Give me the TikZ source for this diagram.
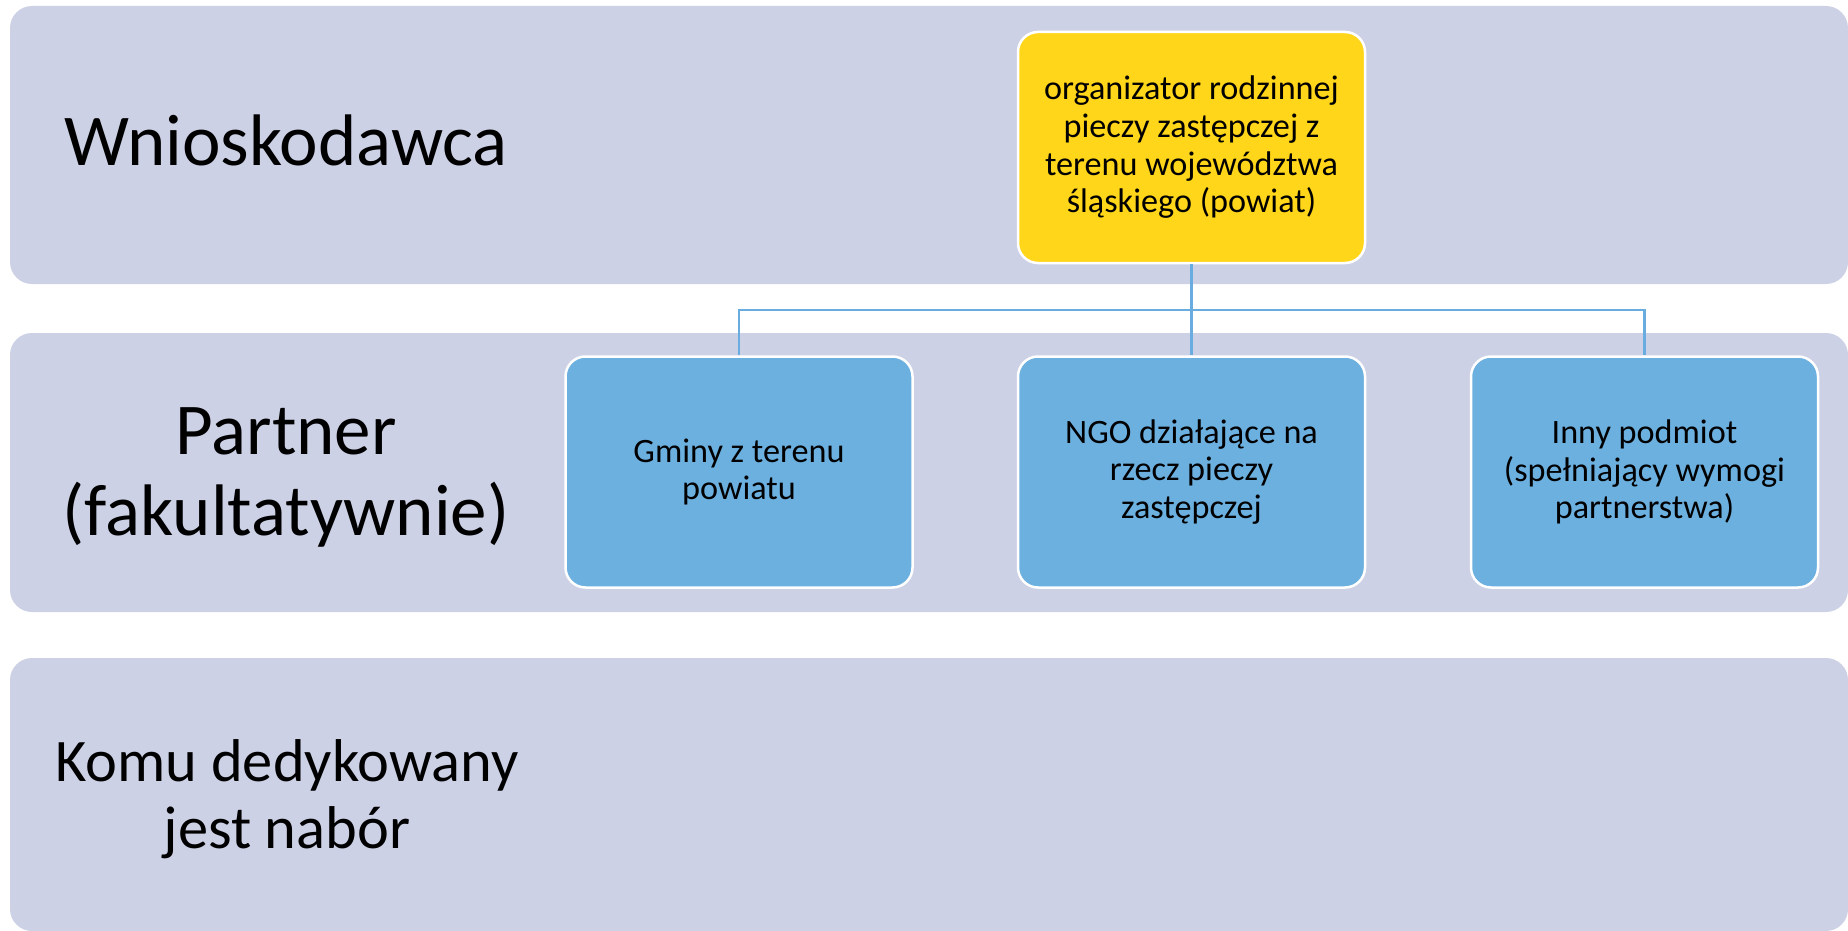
\documentclass[tikz,border=0pt]{standalone}
\usepackage{fontspec}
\setmainfont{Carlito}
\definecolor{bandc}{RGB}{205,209,230}
\definecolor{yelc}{RGB}{255,214,26}
\definecolor{bluec}{RGB}{108,176,224}
\definecolor{linec}{RGB}{104,172,224}
\tikzset{
  band/.style={fill=bandc, draw=none, rounded corners=22pt},
  lab/.style={align=center, font=\fontsize{73}{81}\selectfont, inner sep=0pt},
  labsmall/.style={align=center, font=\fontsize{60.4}{66.5}\selectfont, inner sep=0pt},
  boxbase/.style={draw=white, line width=2.5pt, rounded corners=20pt, minimum width=347pt, minimum height=231pt, align=center, inner sep=0pt, font=\fontsize{34.2}{37.7}\selectfont},
  yelbox/.style={boxbase, fill=yelc},
  bluebox/.style={boxbase, fill=bluec},
  conn/.style={draw=linec, line width=2.2pt}
}
\begin{document}
\begin{tikzpicture}[x=1pt,y=-1pt]
\useasboundingbox (0,0) rectangle (1848,931);
\fill[white] (0,0) rectangle (1848,931);
% bands
\path[band] (10,6) rectangle (1848,284);
\path[band] (10,333) rectangle (1848,612);
\path[band] (10,658) rectangle (1848,931);
% labels
\node[lab, anchor=base] (wn) at (286,165) {Wnioskodawca};
\node[lab] (pa) at (286,477.5) {Partner\\(fakultatywnie)};
\node[labsmall] (ko) at (287,799) {Komu dedykowany\\jest nabór};
% boxes
\node[yelbox] (org) at (1191.5,147.5) {organizator rodzinnej\\pieczy zastępczej z\\terenu województwa\\śląskiego (powiat)};
\node[bluebox] (gm) at (739,472) {Gminy z terenu\\powiatu};
\node[bluebox] (ngo) at (1191.5,472) {NGO działające na\\rzecz pieczy\\zastępczej};
\node[bluebox] (inny) at (1644.5,472) {Inny podmiot\\(spełniający wymogi\\partnerstwa)};
% connectors
\coordinate (bus) at (0,310);
\draw[conn] (org.south) -- (ngo.north);
\draw[conn] (gm.north) |- (org.south |- bus) -| (inny.north);
\end{tikzpicture}
\end{document}
